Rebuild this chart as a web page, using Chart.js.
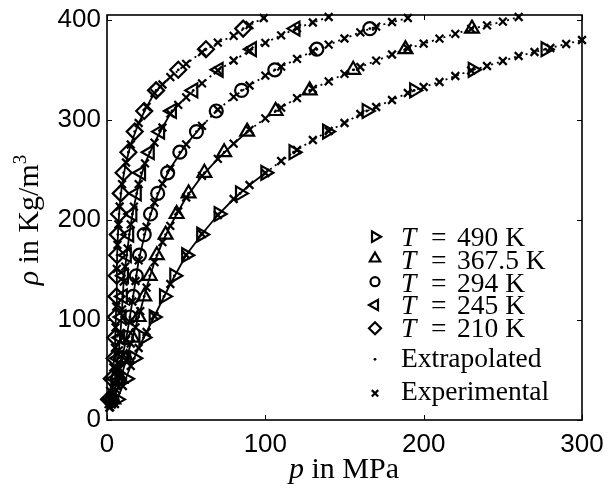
<!DOCTYPE html>
<html>
<head>
<meta charset="utf-8">
<script src="https://cdn.jsdelivr.net/npm/chart.js@4.4.0/dist/chart.umd.min.js"></script>
<style>
  html, body { margin: 0; padding: 0; background: #fff; }
  #wrap { width: 607px; height: 484px; }
</style>
</head>
<body>
<div id="wrap"><canvas id="chart" width="607" height="484"></canvas></div>
<script>
'use strict';

// density levels where the model markers sit (kg/m3)
const rhoModel = [20.6, 41.2, 61.8, 82.4, 103, 123.6, 144.2, 164.8, 185.4, 206, 226.6, 247.2, 267.8, 288.4, 309, 329.6, 350.2, 370.8, 391.4];

// model pressures (MPa) at those levels, one array per temperature
const pModel490 = [6.3, 12, 17.2, 23, 29.5, 36, 42.5, 50, 59.5, 70.5, 84, 100, 117.8, 139, 164, 194, 231, 277];
const pModel367 = [4, 8.5, 12.5, 16, 20, 23.5, 27, 31.5, 37, 44, 51.5, 61.5, 74, 88.5, 106.5, 128, 155.5, 188.5, 230.5];
const pModel294 = [3.2, 6.5, 9.5, 12.3, 14.5, 16.5, 18.5, 20.5, 23.5, 27.5, 32, 38.3, 46, 56.5, 69, 85, 106, 132.5, 166];
const pModel245 = [2.5, 5, 7, 8.3, 9.2, 10, 10.7, 12.5, 14, 16, 18.8, 21.5, 27, 33.5, 41, 54.5, 70.5, 91.5, 119];
const pModel210 = [1.3, 3, 4.8, 5.2, 5.6, 6, 6.1, 6.4, 6.8, 7.6, 8.7, 10.5, 13.5, 17.5, 23.5, 31, 45, 62.5, 86];

// experimental points
const expP490 = [5, 10, 15, 20, 25, 30, 40, 50, 60, 70, 80, 90, 100, 110, 120, 130, 140, 150, 160, 170, 180, 190, 200, 210, 220, 230, 240, 250, 260, 270, 280, 290, 300];
const expRho490 = [16, 34, 54, 72, 88, 104, 136, 165, 186, 205, 221, 235, 247, 259, 270, 280, 289, 297, 306, 313, 320, 327, 333, 338, 344, 349.5, 354, 359, 364, 368, 372, 376, 380];

const expP367 = [3, 6, 9, 12, 15, 18, 21, 25, 30, 35, 40, 45, 50, 60, 70, 80, 90, 100, 110, 120, 130, 140, 150, 160, 170, 180, 190, 200, 210, 220, 230, 240, 250, 260];
const expRho367 = [15.5, 29.8, 43.8, 59.2, 76.5, 92.7, 108.9, 132.4, 157.9, 177.9, 194.2, 208.7, 222.5, 244.1, 261.2, 276.3, 290.1, 301.6, 312.4, 321.9, 331.1, 338.6, 346.1, 353, 359.3, 365.5, 371.5, 376.4, 381.3, 386.2, 391.2, 394.6, 398.4, 403];

const expP294 = [2, 4, 6, 8, 10, 12, 14, 16, 18, 20, 25, 30, 35, 40, 50, 60, 70, 80, 90, 100, 110, 120, 130, 140, 150, 160, 170, 180, 190];
const expRho294 = [12.9, 25.6, 38.1, 51.5, 65.5, 80.2, 98.3, 118.5, 139, 159.7, 193.1, 217.4, 236.4, 251.7, 275.6, 294.2, 310.3, 323.2, 334.5, 344.3, 353.3, 361.1, 368.9, 375.4, 381.5, 387.6, 393.4, 398, 402];

const expP245 = [1.5, 3, 4.5, 6, 7.5, 8.5, 9.5, 10.5, 11.5, 13, 15, 17, 20, 24, 30, 35, 40, 45, 50, 60, 70, 80, 90, 100, 110, 120, 130, 140];
const expRho245 = [12.4, 24.7, 37.1, 51.5, 69.7, 87, 110.7, 138.3, 153.4, 171.7, 195.7, 213.4, 235.8, 256.6, 277.3, 292.5, 306.3, 315.1, 322.7, 336.7, 349.6, 359.5, 369.3, 377.2, 384.7, 391.8, 397.5, 403];

const expP210 = [1, 2, 4, 5, 5.4, 5.8, 6.2, 6.6, 7.2, 8, 9.5, 12, 15, 20, 25, 30, 35, 40, 50, 60, 70, 80, 90, 99];
const expRho210 = [15.8, 29.1, 52.6, 72.1, 92.7, 113.3, 151.1, 175.1, 195.7, 213.5, 235.8, 257.5, 275.5, 297, 313.1, 326.9, 335.5, 342.8, 356.1, 367.9, 377.4, 384.2, 394.8, 402];

// the line turns dotted (extrapolated) above these pressures
const solidUpTo = [95, 90, 60, 45, 35];
const tempLabels = ['490 K', '367.5 K', '294 K', '245 K', '210 K'];

const xTicks = [0, 100, 200, 300];
const yTicks = [0, 100, 200, 300, 400];

const series = [
  { p: pModel490, expP: expP490, expRho: expRho490, style: 'triangle', rot: 90, r: 8 },
  { p: pModel367, expP: expP367, expRho: expRho367, style: 'triangle', rot: 0, r: 8 },
  { p: pModel294, expP: expP294, expRho: expRho294, style: 'circle', rot: 0, r: 6.5 },
  { p: pModel245, expP: expP245, expRho: expRho245, style: 'triangle', rot: -90, r: 8 },
  { p: pModel210, expP: expP210, expRho: expRho210, style: 'rectRot', rot: 0, r: 8 }
];

const SERIF = '"Liberation Serif", "Times New Roman", serif';
const SANS = '"Liberation Sans", Arial, sans-serif';

function pairs(xs, ys) {
  return xs.map((x, i) => ({ x: x, y: ys[i] }));
}

const datasets = [];
series.forEach((s, i) => {
  const lim = solidUpTo[i];
  datasets.push({
    data: pairs(s.expP, s.expRho),
    showLine: true,
    borderColor: '#000',
    borderWidth: 1.8,
    pointStyle: 'crossRot',
    pointRadius: 5.5,
    pointBorderWidth: 2.2,
    pointBorderColor: '#000',
    clip: false,
    segment: { borderDash: c => (c.p0.parsed.x >= lim ? [2, 4] : undefined) }
  });
  datasets.push({
    data: pairs(s.p, rhoModel),
    showLine: false,
    pointStyle: s.style,
    pointRotation: s.rot,
    pointRadius: s.r,
    pointBorderWidth: 2.2,
    pointBorderColor: '#000',
    pointBackgroundColor: 'rgba(0,0,0,0)',
    clip: false
  });
  datasets.push({
    data: pairs(s.p, rhoModel),
    showLine: false,
    pointStyle: 'circle',
    pointRadius: 1.4,
    pointBorderWidth: 0,
    pointBackgroundColor: '#000',
    clip: false
  });
});

// box + inward tick marks on all four sides
const frame = {
  id: 'frame',
  afterDatasetsDraw(chart) {
    const { ctx, chartArea: a, scales: { x, y } } = chart;
    ctx.save();
    ctx.strokeStyle = '#000';
    ctx.lineWidth = 1.6;
    ctx.strokeRect(a.left, a.top, a.right - a.left, a.bottom - a.top);
    ctx.lineWidth = 1;
    ctx.beginPath();
    xTicks.forEach(v => {
      const px = Math.round(x.getPixelForValue(v)) + 0.5;
      ctx.moveTo(px, a.bottom); ctx.lineTo(px, a.bottom - 5);
      ctx.moveTo(px, a.top); ctx.lineTo(px, a.top + 5);
    });
    yTicks.forEach(v => {
      const py = Math.round(y.getPixelForValue(v)) + 0.5;
      ctx.moveTo(a.left, py); ctx.lineTo(a.left + 5, py);
      ctx.moveTo(a.right, py); ctx.lineTo(a.right - 5, py);
    });
    ctx.stroke();
    ctx.restore();
  }
};

function drawParts(ctx, parts, x, y) {
  let cx = x;
  parts.forEach(pt => {
    ctx.font = pt.font;
    const px = pt.at !== undefined ? pt.at : cx;
    ctx.fillText(pt.t, px, y + (pt.dy || 0));
    cx = px + ctx.measureText(pt.t).width;
  });
}

function partsWidth(ctx, parts) {
  return parts.reduce((w, pt) => { ctx.font = pt.font; return w + ctx.measureText(pt.t).width; }, 0);
}

const annotations = {
  id: 'annotations',
  afterDraw(chart) {
    const { ctx } = chart;
    const fs = 27.5;
    ctx.save();
    ctx.fillStyle = '#000';
    ctx.strokeStyle = '#000';
    ctx.textBaseline = 'alphabetic';
    ctx.textAlign = 'left';

    // legend
    const mx = 375, tx = 401;
    const markerY = [236.7, 258.5, 281.7, 305, 328.3, 359.3, 393.3];
    const baseY = [246, 269, 291.7, 314.3, 336.7, 367.3, 400];
    series.forEach((s, i) => {
      ctx.lineWidth = 2.2;
      ctx.fillStyle = 'rgba(0,0,0,0)';
      Chart.helpers.drawPoint(ctx, { pointStyle: s.style, rotation: s.rot, radius: s.r - 2, borderWidth: 2.2 }, mx, markerY[i]);
      ctx.fillStyle = '#000';
      drawParts(ctx, [
        { t: 'T', font: 'italic ' + fs + 'px ' + SERIF, at: tx },
        { t: '=', font: fs + 'px ' + SERIF, at: tx + 30 },
        { t: tempLabels[i], font: fs + 'px ' + SERIF, at: tx + 56 }
      ], tx, baseY[i]);
    });
    ctx.beginPath();
    ctx.arc(mx, markerY[5], 1.4, 0, Math.PI * 2);
    ctx.fill();
    ctx.font = fs + 'px ' + SERIF;
    ctx.fillText('Extrapolated', tx, baseY[5]);
    ctx.lineWidth = 2.2;
    Chart.helpers.drawPoint(ctx, { pointStyle: 'crossRot', rotation: 0, radius: 4.5, borderWidth: 2.2 }, mx, markerY[6]);
    ctx.fillText('Experimental', tx, baseY[6]);

    // x axis title
    const xParts = [
      { t: 'p', font: 'italic 30px ' + SERIF },
      { t: ' in MPa', font: '30px ' + SERIF }
    ];
    drawParts(ctx, xParts, 344 - partsWidth(ctx, xParts) / 2, 478);

    // y axis title (rotated)
    const yParts = [
      { t: '\u03C1', font: 'italic 30px ' + SERIF },
      { t: ' in Kg/m', font: '30px ' + SERIF },
      { t: '3', font: '19px ' + SERIF, dy: -12 }
    ];
    ctx.translate(38, 220);
    ctx.rotate(-Math.PI / 2);
    drawParts(ctx, yParts, -partsWidth(ctx, yParts) / 2, 0);
    ctx.restore();
  }
};

new Chart(document.getElementById('chart'), {
  type: 'scatter',
  data: { datasets: datasets },
  plugins: [frame, annotations],
  options: {
    responsive: false,
    devicePixelRatio: 1,
    animation: false,
    layout: { padding: { top: 15, right: 25, left: 0, bottom: 0 } },
    plugins: { legend: { display: false }, tooltip: { enabled: false } },
    scales: {
      x: {
        type: 'linear', min: 0, max: 300,
        afterBuildTicks: s => { s.ticks = xTicks.map(v => ({ value: v })); },
        afterFit: s => { s.height = 64; s.paddingLeft = 0; s.paddingRight = 0; },
        grid: { display: false, drawTicks: false },
        border: { display: false },
        ticks: { color: '#000', padding: 9, maxRotation: 0, font: { family: SANS, size: 26 } }
      },
      y: {
        type: 'linear', min: 0, max: 405,
        afterBuildTicks: s => { s.ticks = yTicks.map(v => ({ value: v })); },
        afterFit: s => { s.width = 107; s.paddingTop = 0; s.paddingBottom = 0; },
        grid: { display: false, drawTicks: false },
        border: { display: false },
        ticks: { color: '#000', padding: 6, font: { family: SANS, size: 26 } }
      }
    }
  }
});
</script>
</body>
</html>
